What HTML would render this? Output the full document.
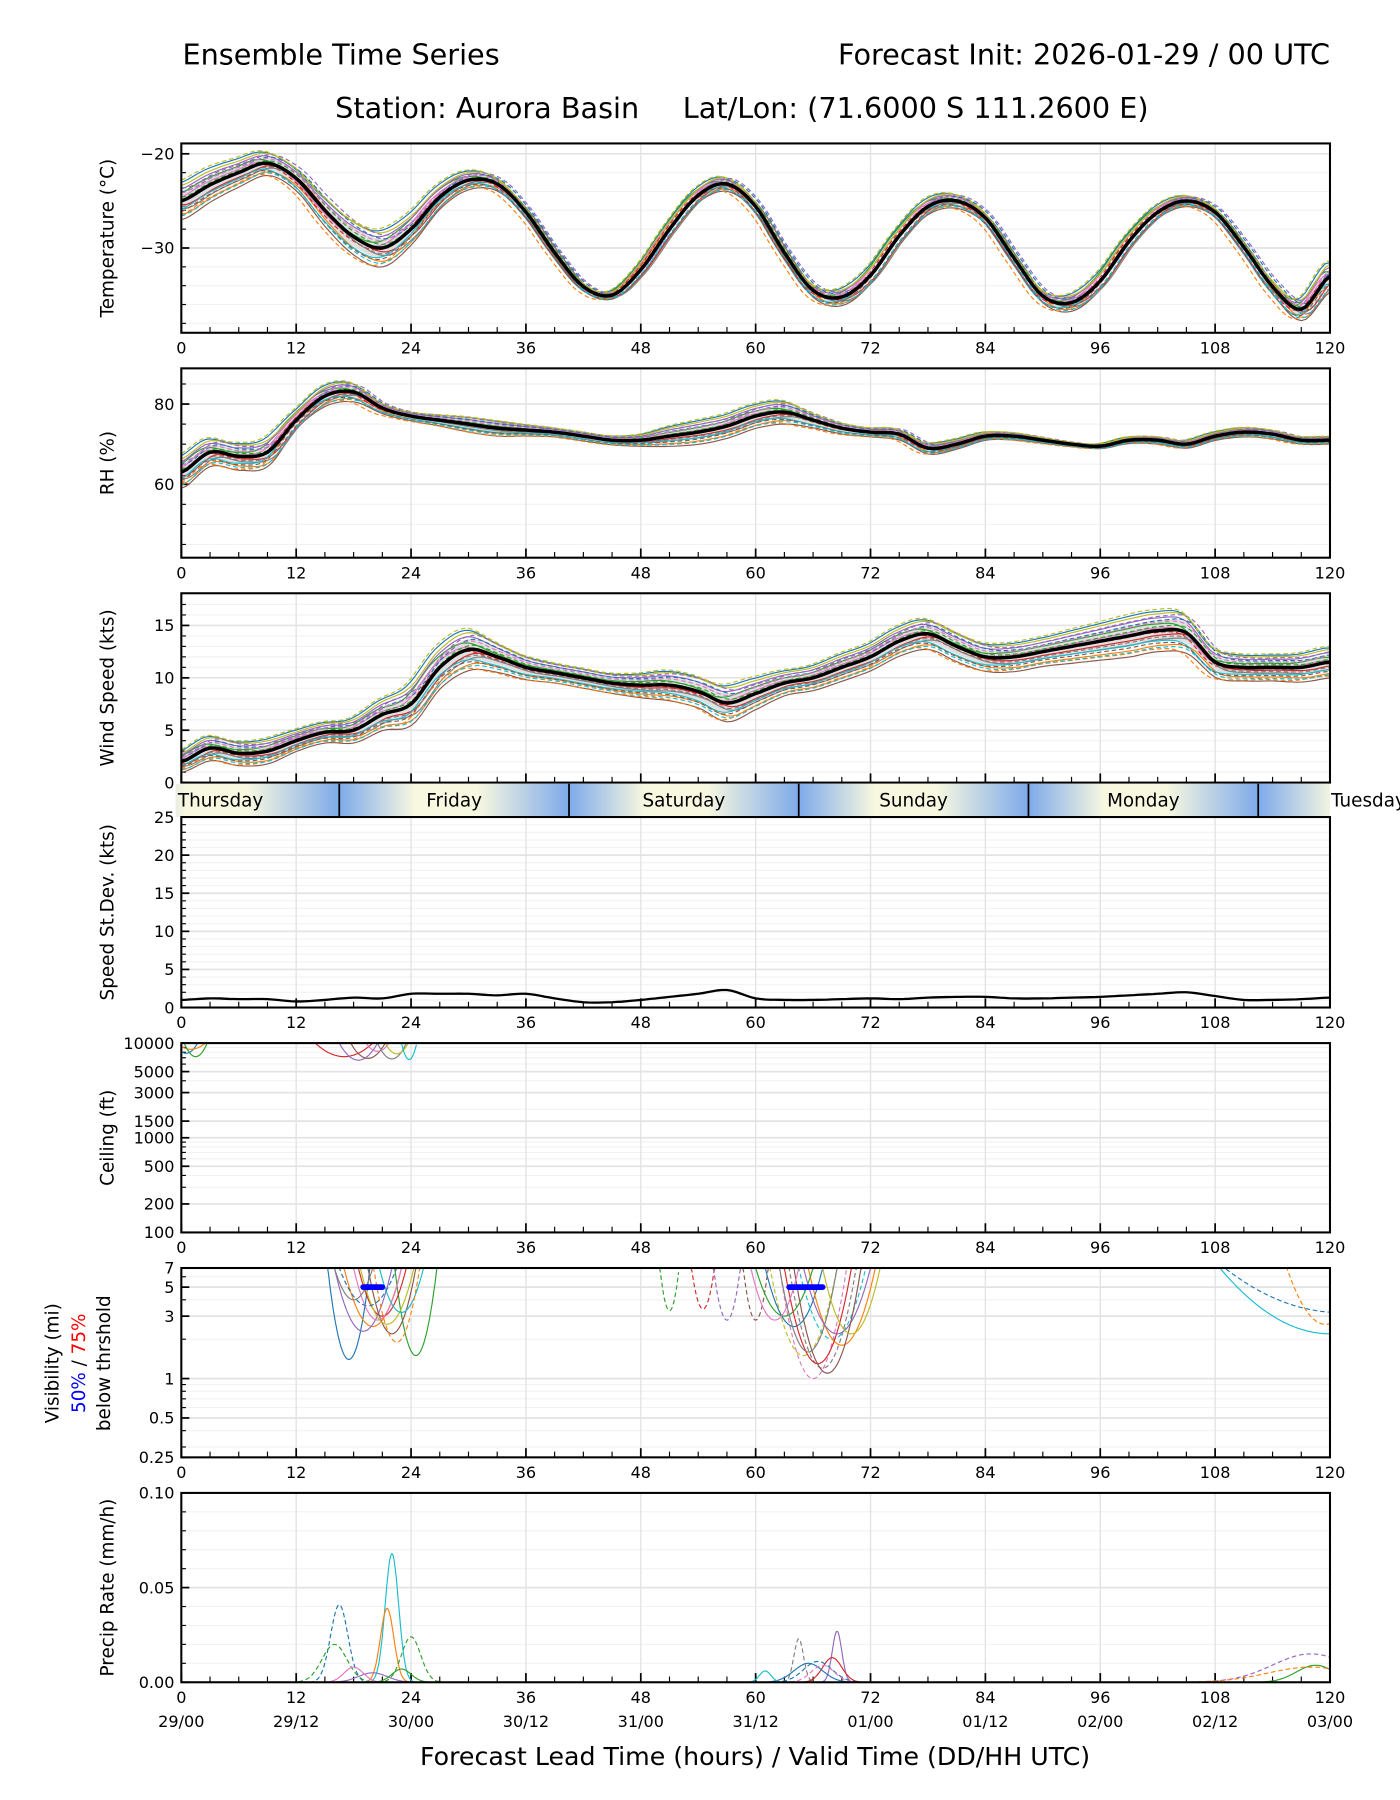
<!DOCTYPE html>
<html><head><meta charset="utf-8"><style>
html,body{margin:0;padding:0;background:#fff;}
svg{display:block;font-family:"DejaVu Sans","Liberation Sans",sans-serif;}
</style></head><body>
<svg id="fig" width="1400" height="1800" viewBox="0 0 1220 1568.6" xmlns="http://www.w3.org/2000/svg">
<defs id="defs"></defs>
<text x="159" y="56" font-size="25">Ensemble Time Series</text>
<text x="1159" y="56" font-size="25" text-anchor="end">Forecast Init: 2026-01-29 / 00 UTC</text>
<text x="557" y="103" font-size="25" text-anchor="end">Station: Aurora Basin</text>
<text x="595" y="103" font-size="25">Lat/Lon: (71.6000 S 111.2600 E)</text>
<g id="root"></g>
</svg>
<script>
// ---------- data (3-hourly, t = 0..120) ----------
const hours = [0,3,6,9,12,15,18,21,24,27,30,33,36,39,42,45,48,51,54,57,60,63,66,69,72,75,78,81,84,87,90,93,96,99,102,105,108,111,114,117,120];
const tempMean = [-25,-23.3,-22,-21,-22.6,-26,-28.8,-30,-28,-24.6,-22.8,-23.2,-26.2,-30.5,-34.1,-35,-32.3,-28,-24.4,-23.2,-25.6,-30.5,-34.5,-35.2,-32.9,-28.7,-25.6,-25,-26.8,-31.1,-35.1,-35.8,-33.5,-29.3,-26.2,-25,-26.2,-29.9,-34.1,-36.5,-33];
const tempSpread = [2,1.8,1.5,1.3,1.4,1.8,2,2,1.6,1.2,1,0.8,0.6,0.5,0.5,0.4,0.5,0.6,0.7,0.8,0.7,0.6,0.8,0.9,0.8,0.7,0.8,0.8,0.7,0.7,0.8,0.9,0.8,0.6,0.6,0.6,0.6,0.7,0.9,1.2,1.6];
const rhMean = [63,68,67,68,76,82,83,79,77,76,75,74,73.5,73,72,71,71,72,73,74.5,77,78,76,74,73,72.5,69,70,72,72,71,70,69.5,71,71,70,72,73,72.5,71,71];
const rhSpread = [4,3.5,3.5,3.5,2,2.5,2.5,1.5,1.2,1.5,2,2,1.5,1.2,1.2,1.2,1.5,2.5,3,3,3,3,2,1.5,1.2,1.5,1.5,1.2,1,1,0.8,0.6,0.6,0.8,1,1,1,1.2,1.2,1,1];
const windMean = [2,3.3,2.8,3,4,4.8,5,6.5,7.5,11,12.7,12,11,10.5,10,9.5,9.3,9.3,8.7,7.6,8.5,9.5,10,11,12,13.5,14.2,13,12,12,12.5,13,13.5,14,14.5,14.3,11.5,11,11,11,11.5];
const windSpread = [1,1.2,1.2,1.2,1,1,1.2,1.5,2,2,2,1.5,1.2,1,1,1,1.2,1.5,1.6,1.8,1.5,1.2,1.2,1.3,1.3,1.4,1.5,1.5,1.4,1.4,1.4,1.6,1.8,2,2,2,1.5,1.3,1.3,1.4,1.5];
const stdDev = [1,1.2,1.1,1.1,0.8,1,1.3,1.2,1.8,1.8,1.8,1.6,1.8,1.2,0.7,0.7,1,1.4,1.8,2.3,1.2,1,1,1.1,1.2,1.1,1.3,1.4,1.4,1.2,1.2,1.3,1.4,1.6,1.8,2,1.5,1,1,1.1,1.3];
// member perturbation coefficients
const memberK = [0.9,-0.7,0.3,-0.2,0.6,-1,0.1,-0.4,0.8,-0.5,0.5,-0.9,0.2,-0.1,0.7,-0.6,0.4,-0.3,1,-0.8];
const memberShift = [0.4,-0.3,0.6,-0.5,0.2,-0.1,0.5,-0.6,0.1,0.3,-0.4,0.6,-0.2,0.4,-0.5,0.2,0,-0.3,0.5,-0.1];
// ceiling dips (ft)
const ceilCenters = [0.5,1,1.5,17,18.5,19.5,20.5,22,22.5,23.8];
const ceilMins = [7800,8600,7200,7200,6600,6900,8200,6800,7700,6700];
const ceilWidths = [1.2,1.5,1.2,3,2,1.8,1.2,1.5,1.2,0.8];
// visibility dips (mi)
const visCenters = [17.5,20,24.5,21,19,22,20.5,18,21.5,23,19.5,22.5, 51,54.5,57,60, 66,67,65,68,64,69,63,66.5,68.5,67.5,62,65.5,70, 120,121,119.5];
const visMins = [1.4,2.5,1.5,3,2.3,2.2,2.8,4,2.6,3.2,3.6,1.9, 3.3,3.4,2.8,2.8, 1,1.2,1.5,2,2.5,1.8,3,1.3,2.2,1.1,2.8,1.6,2.2, 2.2,3.2,2.6];
const visWidths = [2.2,3,2.2,2.5,3,2.5,2.5,2,2.8,2.3,3,2.4, 1,1.2,1.4,1.3, 3.5,3.5,3.5,3.5,3,3.5,3,3.5,3.5,3.5,2.5,3,3, 11.5,12,4];
const visBarStart = [19,63.5];
const visBarEnd = [21,67];
// precip peaks (mm/h)
const prCenters = [16.5,22,21.5,24,16,20,18,23,64.5,68.5,68,65.5,66.5,61,67,118,118.5,118];
const prHeights = [0.041,0.068,0.039,0.024,0.02,0.005,0.008,0.007,0.023,0.027,0.013,0.01,0.011,0.006,0.009,0.015,0.009,0.008];
const prWidths = [0.9,0.7,0.7,1,1.3,1.5,1,1,0.5,0.5,1,1.5,1.5,0.6,1.2,4,2,4.5];
const dayNames = ["Thursday","Friday","Saturday","Sunday","Monday","Tuesday"];
const dayBounds = [16.5,40.5,64.5,88.5,112.5];
const dateLabels = ["29/00","29/12","30/00","30/12","31/00","31/12","01/00","01/12","02/00","02/12","03/00"];

// ---------- helpers ----------
const NS="http://www.w3.org/2000/svg";
const root=document.getElementById('root');
const defs=document.getElementById('defs');
const colors=["#1f77b4","#ff7f0e","#2ca02c","#d62728","#9467bd","#8c564b","#e377c2","#7f7f7f","#bcbd22","#17becf"];
const L=158,R=1159;
function X(h){return L+(h/120)*(R-L);}
function mk(tag,attrs,parent){const e=document.createElementNS(NS,tag);for(const k in attrs)e.setAttribute(k,attrs[k]);(parent||root).appendChild(e);return e;}
function interp(arr,t){t=Math.max(0,Math.min(120,t));const n=arr.length;let i=Math.floor(t/3);if(i>=n-1)i=n-2;const f=t/3-i;
 const p0=arr[Math.max(i-1,0)],p1=arr[i],p2=arr[i+1],p3=arr[Math.min(i+2,n-1)];
 return 0.5*((2*p1)+(-p0+p2)*f+(2*p0-5*p1+4*p2-p3)*f*f+(-p0+3*p1-3*p2+p3)*f*f*f);}
function linScale(d0,d1,top,bot){return v=>bot-(v-d0)/(d1-d0)*(bot-top);}
function logScale(d0,d1,top,bot){return v=>bot-(Math.log(v/d0)/Math.log(d1/d0))*(bot-top);}

function panel(name,top,bot,ys,majors,minors,labels,ylabel,noXLabels){
 const g=mk('g',{});
 
 
 minors.forEach(v=>{const l=mk('line',{x1:L,x2:R,y1:ys(v),y2:ys(v),stroke:'#f2f2f2','stroke-width':1},g);
  
  });
 for(let h=0;h<=120;h+=12){const l=mk('line',{x1:X(h),x2:X(h),y1:top,y2:bot,stroke:'#e3e3e3','stroke-width':1.2},g);
  
  }
 majors.forEach((v,i)=>{const l=mk('line',{x1:L,x2:R,y1:ys(v),y2:ys(v),stroke:'#e3e3e3','stroke-width':1.5},g);
  
  
  const t=mk('text',{x:L-6,y:ys(v)+5,'font-size':14,'text-anchor':'end'},g);t.textContent=labels[i];
  
  
  const tk=mk('line',{x1:L,x2:L+7,y1:ys(v),y2:ys(v),stroke:'#000','stroke-width':1.5},g);
  
  });
 minors.forEach(v=>{const tk=mk('line',{x1:L,x2:L+4,y1:ys(v),y2:ys(v),stroke:'#000','stroke-width':1},g);
  
  });
 for(let h=0;h<=120;h+=3){const maj=h%12===0;const tk=mk('line',{x1:X(h),x2:X(h),y1:bot,y2:bot-(maj?8:5),stroke:'#000','stroke-width':maj?1.5:1},g);
  
  
  if(maj&&!noXLabels){const t=mk('text',{x:X(h),y:bot+18,'font-size':14,'text-anchor':'middle'},g);t.textContent=String(h);
   
   }}
 if(ylabel){const t=mk('text',{x:0,y:0,'font-size':16,'text-anchor':'middle',transform:`translate(99,${(top+bot)/2}) rotate(-90)`},g);t.textContent=ylabel;
  
  }
 const clip=mk('clipPath',{id:'clip-'+name},g);mk('rect',{x:L,y:top,width:R-L,height:bot-top},clip);
 const data=mk('g',{'clip-path':'url(#clip-'+name+')'},g);
 
 
 return {g,data,finish:()=>{const f=mk('rect',{x:L,y:top,width:R-L,height:bot-top,fill:'none',stroke:'#000','stroke-width':1.8},g);
  
  }};
}
function pathFrom(pts){return pts.map((p,i)=>(i?'L':'M')+p[0].toFixed(1)+','+p[1].toFixed(1)).join('');}
function memberStyle(i){return {stroke:colors[i%10],'stroke-width':1,fill:'none','stroke-dasharray':i>=10?'4,2.5':'none'};}

function ensemblePanel(name,P,ys,mean,spread){
 const up=[],dn=[];for(let t=0;t<=120;t+=0.5){up.push([X(t),ys(interp(mean,t)+0.5*interp(spread,t))]);dn.unshift([X(t),ys(interp(mean,t)-0.5*interp(spread,t))]);}
 const band=mk('path',{d:pathFrom(up.concat(dn))+'Z',fill:'#d8d8d8',opacity:0.8},P.data);
 
 
 memberK.forEach((k,i)=>{const pts=[];for(let t=0;t<=120;t+=0.5){pts.push([X(t),ys(interp(mean,t+memberShift[i])+k*interp(spread,t))]);}
  const p=mk('path',Object.assign({d:pathFrom(pts)},memberStyle(i)),P.data);
  
  });
 const pts=[];for(let t=0;t<=120;t+=0.5)pts.push([X(t),ys(interp(mean,t))]);
 const m=mk('path',{d:pathFrom(pts),stroke:'#000','stroke-width':3,fill:'none'},P.data);
 
 
}
function dipPanel(name,P,ys,top,centers,mins,widths){
 centers.forEach((c,i)=>{const pts=[];for(let t=Math.max(0,c-widths[i]*1.05);t<=Math.min(120,c+widths[i]*1.05);t+=0.1){
   const u=(t-c)/widths[i];const e=Math.max(0,1-u*u);pts.push([X(t),ys(top*Math.pow(mins[i]/top,e))]);}
  const p=mk('path',Object.assign({d:pathFrom(pts)},memberStyle(i%20)),P.data);
  
  });
}

// ---------- temperature ----------
{const ys=linScale(-39.0,-18.9,125,290);
 const P=panel('temperature',125,290,ys,[-20,-30],[-22,-24,-26,-28,-32,-34,-36,-38],['\u221220','\u221230'],'Temperature (\u00b0C)');
 ensemblePanel('temperature',P,ys,tempMean,tempSpread);P.finish();}
// ---------- RH ----------
{const ys=linScale(41.7,88.9,321,486);
 const P=panel('rh',321,486,ys,[60,80],[45,50,55,65,70,75,85],['60','80'],'RH (%)');
 ensemblePanel('rh',P,ys,rhMean,rhSpread);P.finish();}
// ---------- wind ----------
{const ys=linScale(0,18.07,517,682);
 const P=panel('wind',517,682,ys,[0,5,10,15],[1,2,3,4,6,7,8,9,11,12,13,14,16,17],['0','5','10','15'],'Wind Speed (kts)',true);
 ensemblePanel('wind',P,ys,windMean,windSpread);P.finish();}
// ---------- day bar ----------
{const g=mk('g',{});
 const edges=[0].concat(dayBounds).concat([120]);
 const dayW=X(24)-X(0);
 for(let i=0;i<edges.length-1;i++){const x0=i===0?153:X(edges[i]);const x1=X(edges[i+1]);
  const gs=i===0?X(dayBounds[0])-dayW:X(edges[i]);
  const gr=mk('linearGradient',{id:'dg'+i,gradientUnits:'userSpaceOnUse',x1:gs,x2:gs+dayW,y1:0,y2:0},defs);
  [[0,'#7eaaea'],[0.33,'#f8f8e0'],[0.6,'#f8f8e0'],[1,'#7eaaea']].forEach(s=>mk('stop',{offset:s[0],'stop-color':s[1]},gr));
  const r=mk('rect',{x:x0,y:683,width:x1-x0,height:29,fill:'url(#dg'+i+')'},g);
  }
 dayBounds.forEach(b=>{const l=mk('line',{x1:X(b),x2:X(b),y1:683,y2:712,stroke:'#000','stroke-width':1.5},g);
  });
 dayNames.forEach((d,i)=>{let x,anchor='middle';
  if(i===0){x=155;anchor='start';}else if(i===dayNames.length-1){x=X(120)+1;anchor='start';}else{x=(X(edges[i])+X(edges[i+1]))/2;}
  const t=mk('text',{x:x,y:703,'font-size':16,'text-anchor':anchor},g);t.textContent=d;
  });}
// ---------- std dev ----------
{const ys=linScale(0,25,712,878);
 const P=panel('speed-stddev',712,878,ys,[0,5,10,15,20,25],[1,2,3,4,6,7,8,9,11,12,13,14,16,17,18,19,21,22,23,24],['0','5','10','15','20','25'],'Speed St.Dev. (kts)');
 const pts=[];for(let t=0;t<=120;t+=0.5)pts.push([X(t),ys(interp(stdDev,t))]);
 const p=mk('path',{d:pathFrom(pts),stroke:'#000','stroke-width':2,fill:'none'},P.data);
 P.finish();}
// ---------- ceiling ----------
{const ys=logScale(100,10000,909,1074);
 const P=panel('ceiling',909,1074,ys,[100,200,500,1000,1500,3000,5000,10000],[300,400,600,700,800,900,2000,4000,6000,7000,8000,9000],['100','200','500','1000','1500','3000','5000','10000'],'Ceiling (ft)');
 dipPanel('ceiling',P,ys,10000,ceilCenters,ceilMins,ceilWidths);P.finish();}
// ---------- visibility ----------
{const ys=logScale(0.25,7,1105,1270);
 const P=panel('visibility',1105,1270,ys,[0.25,0.5,1,3,5,7],[0.3,0.4,0.6,0.7,0.8,0.9,2,4,6],['0.25','0.5','1','3','5','7'],null);
 dipPanel('visibility',P,ys,7,visCenters,visMins,visWidths);
 visBarStart.forEach((s,i)=>{const l=mk('line',{x1:X(s),x2:X(visBarEnd[i]),y1:ys(5),y2:ys(5),stroke:'#0000ff','stroke-width':5,'stroke-linecap':'round'},P.data);
  });
 P.finish();
 const c=1188;
 const t1=mk('text',{x:0,y:0,'font-size':16,'text-anchor':'middle',transform:`translate(51,${c}) rotate(-90)`});t1.textContent='Visibility (mi)';
 
 const t2=mk('text',{x:0,y:0,'font-size':16,'text-anchor':'middle',transform:`translate(74,${c}) rotate(-90)`});
 
 const a=mk('tspan',{fill:'#0000ff'},t2);a.textContent='50%';const b=mk('tspan',{},t2);b.textContent=' / ';const d=mk('tspan',{fill:'#ff0000'},t2);d.textContent='75%';
 const t3=mk('text',{x:0,y:0,'font-size':16,'text-anchor':'middle',transform:`translate(96,${c}) rotate(-90)`});t3.textContent='below thrshold';
 }
// ---------- precip ----------
{const ys=linScale(0,0.1,1301,1466);
 const P=panel('precip',1301,1466,ys,[0,0.05,0.1],[0.01,0.02,0.03,0.04,0.06,0.07,0.08,0.09],['0.00','0.05','0.10'],'Precip Rate (mm/h)');
 prCenters.forEach((c,i)=>{const pts=[];for(let t=Math.max(0,c-prWidths[i]*3.5);t<=Math.min(120,c+prWidths[i]*3.5);t+=0.1){
   const u=(t-c)/prWidths[i];pts.push([X(t),ys(prHeights[i]*Math.exp(-0.5*u*u))]);}
  const p=mk('path',Object.assign({d:pathFrom(pts)},memberStyle([10,9,1,12,12,4,6,2,17,4,3,0,10,9,16,14,2,11][i])),P.data);
  });
 P.finish();
 dateLabels.forEach((d,i)=>{const t=mk('text',{x:X(i*12),y:1505,'font-size':14,'text-anchor':'middle'});t.textContent=d;
  });
 const xl=mk('text',{x:658,y:1538,'font-size':22,'text-anchor':'middle'});xl.textContent='Forecast Lead Time (hours) / Valid Time (DD/HH UTC)';
 }
</script>
</body></html>
